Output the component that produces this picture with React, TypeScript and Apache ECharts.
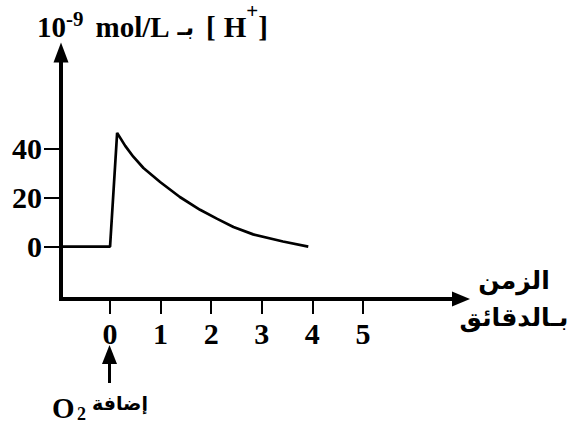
import React, { useEffect, useRef } from "react";
import * as echarts from "echarts";

// time in minutes (x) and [H+] in 10^-9 mol/L (y)
const timeMinutes = [-0.97, 0, 0.14, 0.3, 0.46, 0.66, 0.99, 1.38, 1.78, 2.12, 2.44, 2.83, 3.42, 3.92];
const hConcentration = [0, 0, 46.3, 41, 36.6, 32, 26.3, 20.2, 15, 11.3, 8, 5, 2.1, 0];

const xTickValues = [0, 1, 2, 3, 4, 5];
const yTickValues = [0, 20, 40];

const xAxisName = "الزمن\nبـالدقائق";
const o2Label = "إضافة";

const SERIF = "'Liberation Serif', 'Times New Roman', serif";
const ARABIC = "'DejaVu Sans', sans-serif";

export default function App() {
  const ref = useRef<HTMLDivElement>(null);

  useEffect(() => {
    if (!ref.current) return;
    const chart = echarts.init(ref.current, null, { renderer: "svg" });
    const data = timeMinutes.map((t, i) => [t, hConcentration[i]]);
    const tickLabelStyle = {
      color: "#000",
      fontSize: 30,
      fontWeight: "bold" as const,
      fontFamily: SERIF,
    };
    const mainTok = {
      fontFamily: SERIF,
      fontWeight: "bold" as const,
      fontSize: 29,
      lineHeight: 38,
      color: "#000",
    };
    chart.setOption({
      animation: false,
      backgroundColor: "#fff",
      grid: {
        left: 61,
        right: 107,
        top: 52.5,
        bottom: 124,
        containLabel: false,
        outerBoundsMode: "none",
      },
      xAxis: {
        type: "value",
        min: -0.97,
        max: 6.94,
        axisLine: {
          onZero: false,
          symbol: ["none", "triangle"],
          symbolSize: [15, 18],
          lineStyle: { color: "#000", width: 4, cap: "square" },
        },
        axisTick: {
          show: true,
          customValues: xTickValues,
          length: 15,
          lineStyle: { color: "#000", width: 2 },
        },
        axisLabel: { ...tickLabelStyle, customValues: xTickValues, margin: 19 },
        splitLine: { show: false },
        name: xAxisName,
        nameLocation: "end",
        nameGap: 53,
        nameTextStyle: {
          fontFamily: ARABIC,
          fontWeight: "bold",
          fontSize: 25,
          color: "#000",
          align: "center",
          verticalAlign: "middle",
          lineHeight: 37,
          padding: [16, 0, 0, 0],
        },
      },
      yAxis: {
        type: "value",
        min: -21.3,
        max: 79,
        axisLine: {
          onZero: false,
          show: true,
          symbol: ["none", "triangle"],
          symbolSize: [15, 20],
          lineStyle: { color: "#000", width: 4, cap: "square" },
        },
        axisTick: {
          show: true,
          customValues: yTickValues,
          length: 17,
          lineStyle: { color: "#000", width: 2 },
        },
        axisLabel: { ...tickLabelStyle, customValues: yTickValues, margin: 19 },
        splitLine: { show: false },
      },
      series: [
        {
          type: "line",
          data,
          symbol: "none",
          lineStyle: { color: "#000", width: 2.7 },
          z: 5,
        },
      ],
      graphic: [
        {
          type: "text",
          style: {
            x: 37,
            y: 8,
            verticalAlign: "top",
            text: "{n|10}{s|-9}{m|mol/L}{ar|بـ}{b|[}{h|H}{p|+}{n|]}",
            rich: {
              n: mainTok,
              s: {
                fontFamily: SERIF,
                fontWeight: "bold",
                fontSize: 21,
                verticalAlign: "top",
                color: "#000",
              },
              m: { ...mainTok, padding: [0, 0, 0, 12] },
              ar: {
                fontFamily: ARABIC,
                fontWeight: "bold",
                fontSize: 23,
                lineHeight: 38,
                color: "#000",
                padding: [0, 0, 0, 8],
              },
              b: { ...mainTok, padding: [0, 0, 0, 12] },
              h: { ...mainTok, padding: [0, 0, 0, 8] },
              p: {
                fontFamily: SERIF,
                fontWeight: "bold",
                fontSize: 21,
                verticalAlign: "top",
                height: 6,
                color: "#000",
              },
            },
          },
        },
        {
          type: "line",
          shape: { x1: 109.5, y1: 360, x2: 109.5, y2: 383 },
          style: { stroke: "#000", lineWidth: 3 },
        },
        {
          type: "polygon",
          shape: { points: [[109.5, 345], [102, 364], [117, 364]] },
          style: { fill: "#000" },
        },
        {
          type: "text",
          style: {
            text: "O",
            x: 52,
            y: 408,
            verticalAlign: "middle",
            fontFamily: SERIF,
            fontWeight: "bold",
            fontSize: 29,
            fill: "#000",
          },
        },
        {
          type: "text",
          style: {
            text: "2",
            x: 77,
            y: 414,
            verticalAlign: "middle",
            fontFamily: SERIF,
            fontWeight: "bold",
            fontSize: 18,
            fill: "#000",
          },
        },
        {
          type: "text",
          style: {
            text: o2Label,
            x: 120,
            y: 403,
            align: "center",
            verticalAlign: "middle",
            fontFamily: ARABIC,
            fontWeight: "bold",
            fontSize: 19,
            fill: "#000",
          },
        },
      ],
    });
    return () => chart.dispose();
  }, []);

  return (
    <div
      ref={ref}
      style={{ position: "fixed", left: 0, top: 0, width: 568, height: 423, background: "#fff" }}
    />
  );
}
